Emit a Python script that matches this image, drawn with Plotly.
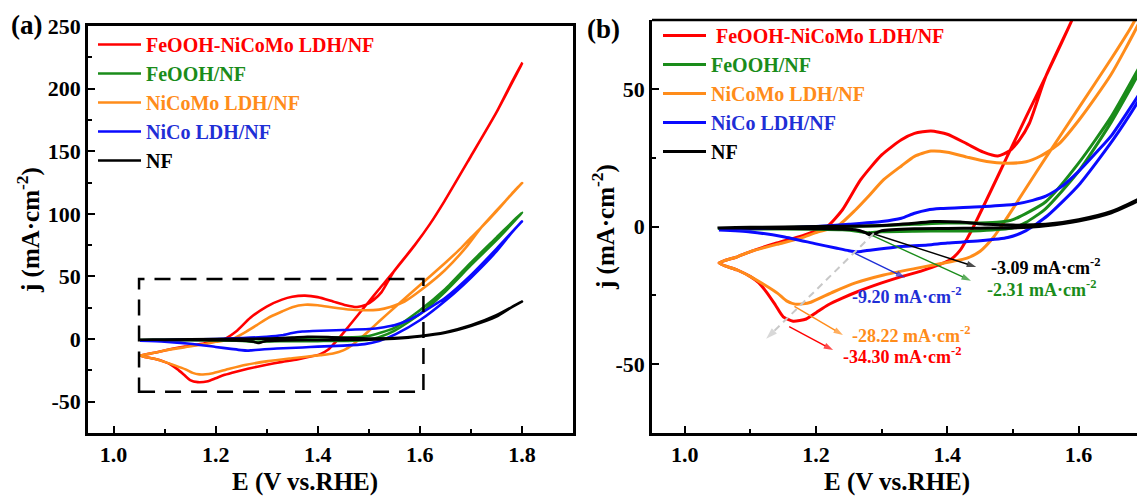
import plotly.graph_objects as go

# ---------------- data (E in V vs RHE, j in mA/cm2) ----------------
NAMES = ["FeOOH-NiCoMo LDH/NF", "FeOOH/NF", "NiCoMo LDH/NF", "NiCo LDH/NF", "NF"]

RED_E_FWD = [1.052, 1.08, 1.10, 1.14, 1.177, 1.20, 1.217, 1.24, 1.268, 1.30, 1.33, 1.35, 1.375, 1.40, 1.43,
             1.455, 1.477, 1.495, 1.51, 1.525, 1.55, 1.59, 1.62, 1.648, 1.70, 1.75, 1.80]
RED_J_FWD = [-13.3, -11, -9.1, -6, -3.5, -1.5, 0, 6, 17, 26, 31.5, 33.8, 34.7, 33.5, 30,
             27, 25.6, 27.5, 31.5, 37.5, 54.5, 75, 92, 110, 146, 181, 220]
RED_E_REV = [1.78, 1.75, 1.70, 1.648, 1.62, 1.59, 1.55, 1.52, 1.50, 1.48, 1.46, 1.44, 1.43, 1.42, 1.405, 1.36,
             1.33, 1.30, 1.263, 1.24, 1.218, 1.20, 1.185, 1.165, 1.15, 1.138, 1.125, 1.112, 1.10, 1.08, 1.052]
RED_J_REV = [205, 181, 146, 110, 92, 75, 54.5, 39.8, 29.8, 19.8, 9.8, 0, -4.5, -8.5, -12, -16.2,
             -18.2, -20.5, -23.7, -26, -28.5, -31.3, -33.6, -34.4, -32.8, -28.5, -24.0, -20.3, -18.2, -15.8, -13.3]

ORG_E_FWD = [1.052, 1.08, 1.10, 1.14, 1.177, 1.20, 1.232, 1.26, 1.28, 1.303, 1.33, 1.35, 1.375, 1.40, 1.43,
             1.46, 1.49, 1.52, 1.542, 1.57, 1.603, 1.649, 1.69, 1.72, 1.75, 1.80]
ORG_J_FWD = [-13.3, -11, -9.1, -6.5, -4.2, -2.2, 0, 6, 11, 17, 22, 25.5, 27.4, 27, 25.2,
             23.6, 23, 23.5, 25.6, 30, 39.4, 55, 73, 89, 102.5, 124.6]
ORG_E_REV = [1.78, 1.75, 1.72, 1.70, 1.679, 1.65, 1.60, 1.55, 1.52, 1.50, 1.482, 1.47, 1.45, 1.43, 1.405, 1.35,
             1.303, 1.26, 1.227, 1.192, 1.18, 1.168, 1.155, 1.141, 1.12, 1.10, 1.08, 1.052]
ORG_J_REV = [116, 102, 89, 81, 72, 61, 43, 25, 14, 6.5, 0, -4, -9.0, -11.5, -12.8, -15.3,
             -17.6, -20.5, -23.7, -27.5, -28.1, -28.2, -27, -24.2, -21, -18.2, -15.8, -13.3]

GRN_E_FWD = [1.052, 1.10, 1.20, 1.30, 1.35, 1.40, 1.45, 1.48, 1.50, 1.55, 1.60, 1.65, 1.70, 1.75, 1.80]
GRN_J_FWD = [-0.8, -0.5, -0.2, 0.3, 0.8, 1.3, 1.3, 1.6, 2.5, 9, 23, 40, 61, 81, 101]
GRN_E_REV = [1.78, 1.75, 1.70, 1.65, 1.60, 1.55, 1.52, 1.50, 1.45, 1.40, 1.35, 1.30, 1.285, 1.278, 1.265,
             1.24, 1.20, 1.10, 1.052]
GRN_J_REV = [92, 79, 59, 38, 20, 6.5, 1.5, -0.5, -1.5, -1.6, -1.7, -1.9, -2.2, -2.31, -1.8,
             -1.2, -1.0, -0.9, -0.8]

BLU_E_FWD = [1.052, 1.10, 1.15, 1.20, 1.25, 1.30, 1.33, 1.35, 1.37, 1.39, 1.45, 1.50, 1.53, 1.55, 1.577,
             1.60, 1.629, 1.65, 1.70, 1.75, 1.80]
BLU_J_FWD = [-1.0, -0.8, -0.5, 0, 0.8, 1.8, 3, 4.8, 6, 6.5, 7.2, 8, 9.5, 11, 15,
             20, 27.4, 33, 51, 72, 94]
BLU_E_REV = [1.78, 1.75, 1.70, 1.654, 1.60, 1.553, 1.52, 1.492, 1.45, 1.40, 1.37, 1.32, 1.285, 1.27, 1.262,
             1.25, 1.23, 1.20, 1.15, 1.10, 1.052]
BLU_J_REV = [85, 70, 49, 32, 15, 4, -1.5, -4, -5.2, -6, -6.7, -7.5, -8.5, -9, -9.2,
             -8.8, -7.8, -6.3, -3.7, -2, -1.3]

BLK_E_FWD = [1.052, 1.10, 1.20, 1.30, 1.35, 1.38, 1.42, 1.46, 1.50, 1.55, 1.60, 1.65, 1.70, 1.75, 1.80]
BLK_J_FWD = [-0.5, -0.3, 0, 0.4, 1.2, 1.8, 1.6, 0.8, 0.5, 0.8, 2.5, 5.5, 11, 19, 30]
BLK_E_REV = [1.78, 1.75, 1.70, 1.65, 1.60, 1.55, 1.50, 1.45, 1.40, 1.35, 1.30, 1.29, 1.283, 1.275, 1.26,
             1.20, 1.10, 1.052]
BLK_J_REV = [25.5, 18, 10.5, 5, 2, 0.3, -0.5, -0.6, -0.7, -0.8, -1.5, -2.5, -3.09, -2.2, -1.2,
             -0.8, -0.6, -0.5]

# peak current labels in panel (b)
PEAK_TEXT = ["-34.30 mA·cm<sup>-2</sup>", "-2.31 mA·cm<sup>-2</sup>", "-28.22 mA·cm<sup>-2</sup>",
             "-9.20 mA·cm<sup>-2</sup>", "-3.09 mA·cm<sup>-2</sup>"]
PEAK_TEXT_POS = [(1.238, -47), (1.457, -22.6), (1.252, -39.3), (1.252, -25.0), (1.463, -14.7)]
PEAK_ARROW_TAIL = [(1.159, -36.4), (1.286, -3.3), (1.167, -29.0), (1.257, -9.5), (1.280, -2.1)]
PEAK_ARROW_HEAD = [(1.226, -44.9), (1.436, -19.7), (1.241, -39.4), (1.336, -18.6), (1.444, -14.7)]
TREND_START = (1.288, -2.5)
TREND_END = (1.124, -40.8)

# zoom window drawn in panel (a)
BOX_E = [1.05, 1.607]
BOX_J = [-42, 48]

# ticks
A_YTICKS = [-50, 0, 50, 100, 150, 200, 250]
B_YTICKS = [-50, 0, 50]
XTICKS = [1.0, 1.2, 1.4, 1.6, 1.8]

# ---------------- styling ----------------
LINE_COLORS = ["#ff0000", "#1a8c1a", "#ff8c1a", "#0a0aff", "#000000"]
TEXT_COLORS = ["#ff0000", "#1a8c1a", "#ff8c1a", "#1f2fd6", "#000000"]
DRAW_ORDER = [0, 2, 1, 3, 4]
FONT = "Liberation Serif"
W, H = 1137, 500

series_E = [RED_E_FWD + RED_E_REV, GRN_E_FWD + GRN_E_REV, ORG_E_FWD + ORG_E_REV,
            BLU_E_FWD + BLU_E_REV, BLK_E_FWD + BLK_E_REV]
series_J = [RED_J_FWD + RED_J_REV, GRN_J_FWD + GRN_J_REV, ORG_J_FWD + ORG_J_REV,
            BLU_J_FWD + BLU_J_REV, BLK_J_FWD + BLK_J_REV]

fig = go.Figure()
for panel, (xa, ya, leg, lw) in enumerate([("x", "y", "legend", 2.6), ("x2", "y2", "legend2", 3.0)]):
    for i in DRAW_ORDER:
        label = NAMES[i]
        if panel == 1 and i == 0:
            label = "\u00a0" + label
        fig.add_trace(go.Scatter(
            x=series_E[i], y=series_J[i], mode="lines",
            line=dict(color=LINE_COLORS[i], width=lw, shape="spline", smoothing=0.6),
            name=f"<span style='color:{TEXT_COLORS[i]}'><b>{label}</b></span>",
            legend=leg, legendrank=i + 1, xaxis=xa, yaxis=ya, hoverinfo="skip",
        ))

# arrows pointing from the cathodic peaks to their labels (panel b)
for i in range(5):
    (tx, ty), (hx, hy) = PEAK_ARROW_TAIL[i], PEAK_ARROW_HEAD[i]
    fig.add_trace(go.Scatter(
        x=[tx, hx], y=[ty, hy], mode="lines+markers", xaxis="x2", yaxis="y2",
        line=dict(color=TEXT_COLORS[i], width=1.4),
        marker=dict(symbol="arrow", size=[0, 10], angleref="previous", color=TEXT_COLORS[i],
                    line=dict(width=0)),
        showlegend=False, hoverinfo="skip"))
# grey dashed trend arrow
fig.add_trace(go.Scatter(
    x=[TREND_START[0], TREND_END[0]], y=[TREND_START[1], TREND_END[1]], mode="lines+markers",
    xaxis="x2", yaxis="y2", line=dict(color="#c8c8c8", width=2, dash="7px,5px"),
    marker=dict(symbol="arrow", size=[0, 12], angleref="previous", color="#c8c8c8", line=dict(width=0)),
    showlegend=False, hoverinfo="skip"))

tickfont = dict(family=FONT, size=22, color="black", weight="bold")
minor_x = dict(dtick=0.1, tick0=1.0, ticks="inside", ticklen=4, tickwidth=2, tickcolor="black")
minor_y = dict(dtick=25, tick0=0, ticks="inside", ticklen=4, tickwidth=2, tickcolor="black")
axis_common = dict(showline=True, linewidth=2.5, linecolor="black", ticks="inside", ticklen=7,
                   tickwidth=2, tickcolor="black", showgrid=False, zeroline=False, tickfont=tickfont,
                   automargin=False, tickmode="array")

legend_font = dict(family=FONT, size=20, weight="bold")
fig.update_layout(
    width=W, height=H, margin=dict(l=0, r=0, t=0, b=0, autoexpand=False),
    paper_bgcolor="white", plot_bgcolor="white",
    font=dict(family=FONT, color="black"),
    xaxis=dict(domain=[88 / W, 573 / W], range=[0.95, 1.9], anchor="y", mirror=True,
               tickvals=XTICKS, ticktext=[f"{v:.1f}" for v in XTICKS], minor=minor_x, **axis_common),
    yaxis=dict(domain=[1 - 433 / H, 1 - 26 / H], range=[-75, 250], anchor="x", mirror=True,
               tickvals=A_YTICKS, ticktext=[str(v) for v in A_YTICKS], minor=minor_y, **axis_common),
    xaxis2=dict(domain=[652 / W, 1.0], range=[0.95, 1.689], anchor="y2",
                tickvals=XTICKS, ticktext=[f"{v:.1f}" for v in XTICKS], minor=minor_x, **axis_common),
    yaxis2=dict(domain=[1 - 433 / H, 1 - 20 / H], range=[-75, 75], anchor="x2",
                tickvals=B_YTICKS, ticktext=[str(v) for v in B_YTICKS], minor=minor_y, **axis_common),
    legend=dict(x=93 / W, y=1 - 25 / H, xanchor="left", yanchor="top", bgcolor="rgba(0,0,0,0)",
                font=legend_font, itemwidth=43, tracegroupgap=0),
    legend2=dict(x=658 / W, y=1 - 16 / H, xanchor="left", yanchor="top", bgcolor="rgba(0,0,0,0)",
                 font=legend_font, itemwidth=43, tracegroupgap=0),
    showlegend=True,
)

shapes = [
    dict(type="rect", xref="x", yref="y", x0=BOX_E[0], x1=BOX_E[1], y0=BOX_J[0], y1=BOX_J[1],
         line=dict(color="black", width=2.5, dash="16px,10px")),
    dict(type="line", xref="x2 domain", yref="y2 domain", x0=0, x1=1, y0=1, y1=1,
         line=dict(color="black", width=2.5)),
]
fig.update_layout(shapes=shapes)

ann = []
for i in range(5):
    px, py = PEAK_TEXT_POS[i]
    ann.append(dict(x=px, y=py, xref="x2", yref="y2", text=f"<b>{PEAK_TEXT[i]}</b>", showarrow=False,
                    xanchor="left", yanchor="middle",
                    font=dict(family=FONT, size=18, color=TEXT_COLORS[i])))

title_font = dict(family=FONT, size=25, color="black")
ann += [
    dict(x=305 / W, y=1 - 482 / H, xref="paper", yref="paper", text="<b>E (V vs.RHE)</b>",
         showarrow=False, font=title_font, xanchor="center", yanchor="middle"),
    dict(x=897 / W, y=1 - 482 / H, xref="paper", yref="paper", text="<b>E (V vs.RHE)</b>",
         showarrow=False, font=title_font, xanchor="center", yanchor="middle"),
    dict(x=29 / W, y=1 - 230 / H, xref="paper", yref="paper", text="<b>j (mA·cm<sup>-2</sup>)</b>",
         showarrow=False, font=title_font, textangle=-90, xanchor="center", yanchor="middle"),
    dict(x=604 / W, y=1 - 227 / H, xref="paper", yref="paper", text="<b>j (mA·cm<sup>-2</sup>)</b>",
         showarrow=False, font=title_font, textangle=-90, xanchor="center", yanchor="middle"),
    dict(x=27 / W, y=1 - 25 / H, xref="paper", yref="paper", text="<b>(a)</b>",
         showarrow=False, font=dict(family=FONT, size=27, color="black"), xanchor="center", yanchor="middle"),
    dict(x=603 / W, y=1 - 29 / H, xref="paper", yref="paper", text="<b>(b)</b>",
         showarrow=False, font=dict(family=FONT, size=27, color="black"), xanchor="center", yanchor="middle"),
]
fig.update_layout(annotations=ann)

fig.write_html("out.html", config={"displayModeBar": False},
               post_script="document.body.style.margin='0';document.body.style.padding='0';"
                           "document.body.style.overflow='hidden';")
